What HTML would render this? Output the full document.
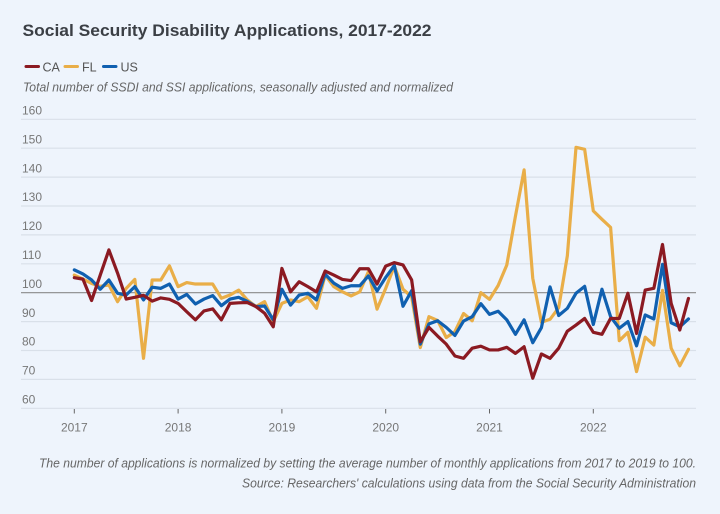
<!DOCTYPE html>
<html>
<head>
<meta charset="utf-8">
<style>
  html, body { margin: 0; padding: 0; background: #eef4fc; }
  body { width: 720px; height: 514px; overflow: hidden; }
  svg { display: block; }
  text { font-family: "Liberation Sans", sans-serif; }
</style>
</head>
<body>
<svg width="720" height="514" viewBox="0 0 720 514" xmlns="http://www.w3.org/2000/svg">
  <rect x="0" y="0" width="720" height="514" fill="#eef4fc"/>

  <!-- Title -->
  <text x="22.5" y="36" font-size="17" font-weight="bold" fill="#3b3f45" textLength="409" lengthAdjust="spacingAndGlyphs">Social Security Disability Applications, 2017-2022</text>

  <!-- Legend -->
  <line x1="26" y1="66.5" x2="38.5" y2="66.5" stroke="#8b1a22" stroke-width="3" stroke-linecap="round"/>
  <text x="42.5" y="71.5" font-size="12.5" fill="#555">CA</text>
  <line x1="65" y1="66.5" x2="77.5" y2="66.5" stroke="#e9ae48" stroke-width="3" stroke-linecap="round"/>
  <text x="82" y="71.5" font-size="12.5" fill="#555">FL</text>
  <line x1="103.5" y1="66.5" x2="116" y2="66.5" stroke="#1060b0" stroke-width="3" stroke-linecap="round"/>
  <text x="120.5" y="71.5" font-size="12.5" fill="#555">US</text>

  <!-- Subtitle -->
  <text x="23" y="91.5" font-size="13" font-style="italic" fill="#666" textLength="430" lengthAdjust="spacingAndGlyphs">Total number of SSDI and SSI applications, seasonally adjusted and normalized</text>

  <!-- Grid lines -->
  <g stroke="#d9e0e9" stroke-width="1.2">
    <line x1="21" y1="119.3" x2="696" y2="119.3"/>
    <line x1="21" y1="148.2" x2="696" y2="148.2"/>
    <line x1="21" y1="177.1" x2="696" y2="177.1"/>
    <line x1="21" y1="206" x2="696" y2="206"/>
    <line x1="21" y1="234.9" x2="696" y2="234.9"/>
    <line x1="21" y1="263.8" x2="696" y2="263.8"/>
    <line x1="21" y1="321.6" x2="696" y2="321.6"/>
    <line x1="21" y1="350.5" x2="696" y2="350.5"/>
    <line x1="21" y1="379.4" x2="696" y2="379.4"/>
    <line x1="21" y1="408.3" x2="696" y2="408.3"/>
  </g>
  <line x1="21" y1="292.7" x2="696" y2="292.7" stroke="#8a8a8a" stroke-width="1.2"/>

  <!-- Y labels -->
  <g font-size="12" fill="#777">
    <text x="22" y="114.5">160</text>
    <text x="22" y="143.4">150</text>
    <text x="22" y="172.3">140</text>
    <text x="22" y="201.2">130</text>
    <text x="22" y="230.1">120</text>
    <text x="22" y="259">110</text>
    <text x="22" y="287.9">100</text>
    <text x="22" y="316.8">90</text>
    <text x="22" y="345.7">80</text>
    <text x="22" y="374.6">70</text>
    <text x="22" y="403.5">60</text>
  </g>

  <!-- X ticks -->
  <g stroke="#666" stroke-width="1">
    <line x1="74.3" y1="409" x2="74.3" y2="413.5"/>
    <line x1="178.1" y1="409" x2="178.1" y2="413.5"/>
    <line x1="281.9" y1="409" x2="281.9" y2="413.5"/>
    <line x1="385.7" y1="409" x2="385.7" y2="413.5"/>
    <line x1="489.5" y1="409" x2="489.5" y2="413.5"/>
    <line x1="593.3" y1="409" x2="593.3" y2="413.5"/>
  </g>
  <g font-size="12" fill="#777" text-anchor="middle">
    <text x="74.3" y="431.5">2017</text>
    <text x="178.1" y="431.5">2018</text>
    <text x="281.9" y="431.5">2019</text>
    <text x="385.7" y="431.5">2020</text>
    <text x="489.5" y="431.5">2021</text>
    <text x="593.3" y="431.5">2022</text>
  </g>

  <!-- Series: x = 74.3 + 8.65*i ; y = 581.7 - 2.89*v -->
  <g transform="matrix(8.65 0 0 -2.89 74.3 581.7)" fill="none" stroke-linejoin="round" stroke-linecap="round">
    <polyline vector-effect="non-scaling-stroke" stroke="#e9ae48" stroke-width="3.2" points="0,106.1 1,104.7 2,103.2 3,102.2 4,102.7 5,96.9 6,101.5 7,104.6 8,77.3 9,104.4 10,104.4 11,109.3 12,102.1 13,103.5 14,103 15,103 16,103 17,98.1 18,99.2 19,100.9 20,97.5 21,95.2 22,96.9 23,90 24,96.3 25,97.5 26,96.9 27,98.6 28,94.6 29,106.1 30,102.1 31,100.3 32,98.9 33,100.3 34,107.3 35,94.3 36,101.5 37,109.2 38,101.2 39,98.6 40,81 41,91.7 42,90.4 43,84.5 44,86.5 45,92.8 46,90.3 47,100 48,97.7 49,102.5 50,109.6 51,126.5 52,142.5 53,105 54,89.8 55,90.8 56,94.8 57,112.8 58,150.3 59,149.6 60,128.3 61,125.4 62,122.6 63,83.4 64,86.3 65,72.7 66,84.6 67,81.9 68,100.8 69,80.8 70,74.7 71,80.4"/>
    <polyline vector-effect="non-scaling-stroke" stroke="#1060b0" stroke-width="3.2" points="0,107.9 1,106.5 2,104.4 3,101.2 4,104.4 5,99.8 6,99.2 7,102.1 8,97.5 9,101.9 10,101.5 11,103 12,97.8 13,99.4 14,96.1 15,97.8 16,99 17,95.5 18,97.8 19,98.4 20,97 21,95.2 22,95.4 23,90.6 24,101.2 25,95.7 26,99.2 27,99.8 28,97.5 29,106.4 30,103.3 31,101.5 32,102.4 33,102.4 34,105.8 35,100.6 36,105.3 37,109.4 38,95.3 39,100.7 40,82.2 41,89.2 42,90.3 43,88 44,85.2 45,90.2 46,91.7 47,96.2 48,92.5 49,93.6 50,90.6 51,85.6 52,90.6 53,82.7 54,87.9 55,102 56,92.1 57,94.6 58,99.8 59,102.2 60,89 61,101.2 62,91.7 63,87.7 64,90 65,81.6 66,92.3 67,90.9 68,109.8 69,89.6 70,88.2 71,90.9"/>
    <polyline vector-effect="non-scaling-stroke" stroke="#8b1a22" stroke-width="3.2" points="0,105.2 1,104.7 2,97.3 3,106.1 4,114.8 5,106.8 6,97.8 7,98.4 8,99.1 9,97.1 10,98.2 11,97.7 12,96.3 13,93.4 14,90.6 15,93.7 16,94.4 17,90.6 18,96.3 19,96.5 20,96.6 21,95.2 22,92.9 23,88.2 24,108.4 25,100.3 26,103.8 27,102.1 28,100.3 29,107.5 30,106.1 31,104.6 32,104.2 33,108.3 34,108.3 35,103 36,109.2 37,110.4 38,109.6 39,104.4 40,83 41,88 42,85 43,82.2 44,78.1 45,77.3 46,80.8 47,81.5 48,80.2 49,80.2 50,81.1 51,79 52,81.3 53,70.4 54,78.8 55,77.3 56,80.8 57,86.7 58,88.8 59,91.1 60,86.3 61,85.6 62,91.1 63,91.1 64,99.8 65,85.9 66,100.9 67,101.5 68,116.7 69,96.3 70,87.1 71,98"/>
  </g>

  <!-- Footer notes -->
  <text x="39" y="467.5" font-size="13" font-style="italic" fill="#666" textLength="657" lengthAdjust="spacingAndGlyphs">The number of applications is normalized by setting the average number of monthly applications from 2017 to 2019 to 100.</text>
  <text x="242" y="487.5" font-size="13" font-style="italic" fill="#666" textLength="454" lengthAdjust="spacingAndGlyphs">Source: Researchers' calculations using data from the Social Security Administration</text>
</svg>
</body>
</html>
